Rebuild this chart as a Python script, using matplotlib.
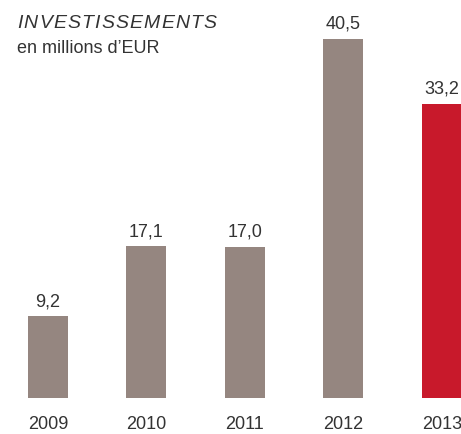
import matplotlib
matplotlib.use("Agg")
import matplotlib.pyplot as plt
import numpy as np

plt.rcParams['font.family'] = ['Liberation Sans', 'DejaVu Sans']

# data
years = ['2009', '2010', '2011', '2012', '2013']
values = [9.2, 17.1, 17.0, 40.5, 33.2]
labels = ['9,2', '17,1', '17,0', '40,5', '33,2']
colors = ['#958680', '#958680', '#958680', '#958680', '#c8192b']

title = 'INVESTISSEMENTS'
subtitle = 'en millions d\u2019EUR'
txt_col = '#333333'

fig = plt.figure(figsize=(4.61, 4.35), dpi=100)
ax = fig.add_axes([0, 0.0834, 1, 0.9166])

x = np.arange(len(years))
ax.bar(x, values, width=0.406, color=colors)
ax.set_xlim(-0.487, 4.193)
ax.set_ylim(0, 45.0)
ax.axis('off')

for xi, v, lab in zip(x, values, labels):
    ax.annotate(lab, (xi, v), xytext=(0, 8), textcoords='offset points',
                ha='center', va='baseline', fontsize=13, color=txt_col)
    ax.annotate(years[xi], (xi, 0), xytext=(0, -22), textcoords='offset points',
                ha='center', va='baseline', fontsize=13, color=txt_col)

# title with letter spacing, one glyph at a time
fig.canvas.draw()
r = fig.canvas.get_renderer()
px = 17
for ch in title:
    t = fig.text(px / 461, 1 - 28 / 435, ch, fontsize=14, style='italic',
                 color=txt_col, va='baseline', ha='left')
    w = t.get_window_extent(renderer=r).width
    px += w + 1.2

fig.text(17 / 461, 1 - 53 / 435, subtitle, fontsize=13, color=txt_col,
         va='baseline', ha='left')

fig.savefig('out.png', dpi=100)
